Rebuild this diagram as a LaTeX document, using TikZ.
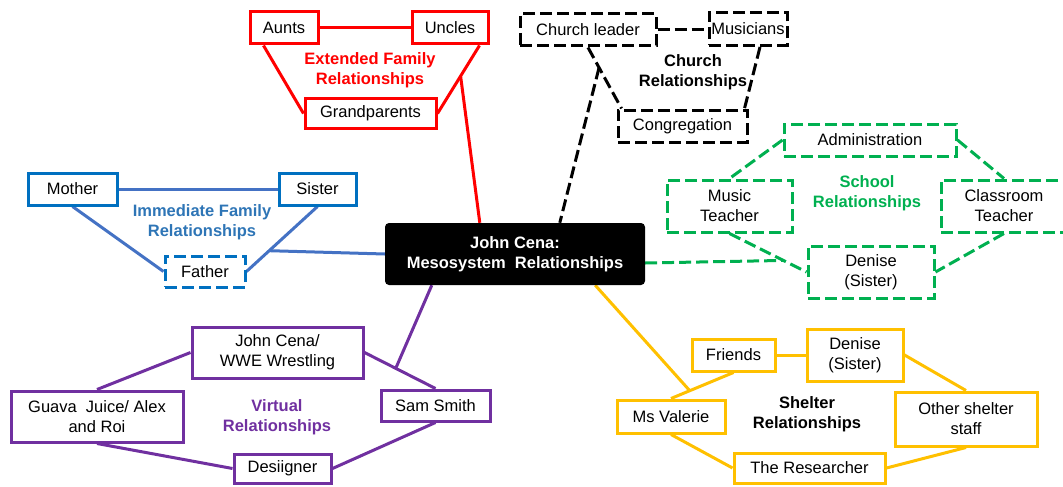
\documentclass[tikz,border=0pt]{standalone}
\usepackage{fontspec}
\setmainfont{Liberation Sans}
\usetikzlibrary{calc}
\pgfdeclarelayer{bg}
\pgfsetlayers{bg,main}
\definecolor{cred}{HTML}{FF0000}
\definecolor{cblueb}{HTML}{0070C0}
\definecolor{cbluel}{HTML}{4472C4}
\definecolor{cbluet}{HTML}{2E75B6}
\definecolor{cgreen}{HTML}{00B050}
\definecolor{cpurple}{HTML}{7030A0}
\definecolor{cyellow}{HTML}{FFC000}
\begin{document}
\begin{tikzpicture}[x=1pt,y=-1pt,
  box/.style={draw, line width=3pt, fill=white, align=center, inner sep=1pt,
    font=\fontsize{16.5}{20}\selectfont, text=black},
  dbox/.style={box, dash pattern=on 12pt off 5pt},
  lab/.style={align=center, font=\fontsize{16.5}{20}\selectfont\bfseries},
  conn/.style={line width=3pt},
  dconn/.style={line width=3pt, dash pattern=on 12pt off 5pt},
  redbox/.style={box, draw=cred},
  churchbox/.style={dbox, draw=black},
  bluebox/.style={box, draw=cblueb},
  greenbox/.style={dbox, draw=cgreen},
  purplebox/.style={box, draw=cpurple},
  yellowbox/.style={box, draw=cyellow}
]
\useasboundingbox (0,0) rectangle (1063,487);
\clip (0,0) rectangle (1063,487);

% centre
\node[fill=black, rounded corners=4pt, minimum width=260pt, minimum height=62pt,
  text=white, lab] (center) at (515,254) {John Cena:\\Mesosystem\ \ Relationships};

% ---- Extended family (red)
\node[redbox, minimum width=68pt, minimum height=32pt] (aunts) at (284,28) {Aunts};
\node[redbox, minimum width=76pt, minimum height=32pt] (uncles) at (450,28) {Uncles};
\node[redbox, minimum width=131pt, minimum height=30pt] (grand) at (370.5,113.5) {Grandparents};
\node[lab, text=cred] (redlab) at (370,70) {Extended Family\\Relationships};

% ---- Church (black dashed)
\node[churchbox, minimum width=136pt, minimum height=32pt] (cleader) at (588,30) {Church leader};
\node[churchbox, minimum width=78pt, minimum height=33pt] (musicians) at (748,29) {Musicians};
\node[churchbox, minimum width=129pt, minimum height=32pt] (cong) at (682.5,126) {Congregation};
\node[lab, text=black] (chlab) at (693,72) {Church\\Relationships};

% ---- Immediate family (blue)
\node[bluebox, minimum width=89pt, minimum height=32pt] (mother) at (72.5,189) {Mother};
\node[bluebox, minimum width=77pt, minimum height=32pt] (sister) at (317.5,189) {Sister};
\node[bluebox, dash pattern=on 12pt off 5pt, minimum width=80pt, minimum height=31pt] (father) at (205,271.5) {Father};
\node[lab, text=cbluet] (bluelab) at (202,222) {Immediate Family\\Relationships};

% ---- School (green dashed)
\node[greenbox, minimum width=172pt, minimum height=32pt] (admin) at (870,140) {Administration};
\node[greenbox, minimum width=125pt, minimum height=52pt] (music) at (729.5,206) {Music\\Teacher};
\node[greenbox, minimum width=126pt, minimum height=52pt] (classroom) at (1004,206) {Classroom\\Teacher};
\node[greenbox, minimum width=126pt, minimum height=52pt] (denisea) at (871,272) {Denise\\(Sister)};
\node[lab, text=cgreen] (greenlab) at (867,193) {School\\Relationships};

% ---- Virtual (purple)
\node[purplebox, minimum width=171pt, minimum height=51pt] (jcwwe) at (277.5,352.5) {John Cena/\\WWE Wrestling};
\node[purplebox, minimum width=172pt, minimum height=51pt] (guava) at (97,416.5) {Guava\ \ Juice/ Alex\\and Roi};
\node[purplebox, minimum width=109pt, minimum height=31pt] (sam) at (435.5,405.5) {Sam Smith};
\node[purplebox, minimum width=97pt, minimum height=29pt] (desiigner) at (282.5,468.5) {Desiigner};
\node[lab, text=cpurple] (purplelab) at (277,417) {Virtual\\Relationships};

% ---- Shelter (yellow)
\node[yellowbox, minimum width=83pt, minimum height=32pt] (friends) at (733.5,355) {Friends};
\node[yellowbox, minimum width=96pt, minimum height=52pt] (deniseb) at (855,355) {Denise\\(Sister)};
\node[yellowbox, minimum width=108pt, minimum height=33pt] (valerie) at (671,416.5) {Ms Valerie};
\node[yellowbox, minimum width=142pt, minimum height=54pt] (other) at (966,419) {Other shelter\\staff};
\node[yellowbox, minimum width=151pt, minimum height=30pt] (researcher) at (809.5,468) {The Researcher};
\node[lab, text=black] (shlab) at (807,414) {Shelter\\Relationships};

% ===== connectors (behind boxes)
\begin{pgfonlayer}{bg}
% red
\draw[conn, cred] (aunts.east) -- (uncles.west);
\draw[conn, cred] ($(aunts.south west)+(15,0)$) -- (grand.west);
\draw[conn, cred] ($(uncles.south east)+(-10,0)$) -- (grand.east) coordinate[pos=0.45] (rhub);
\draw[conn, cred] (rhub) -- ($(center.north west)+(95,0)$);
% church
\draw[dconn, black] (cleader.east) -- (cleader.east -| musicians.west);
\draw[dconn, black] (cleader.south) -- ($(cong.north west)+(5,0)$) coordinate[pos=0.33] (chub);
\draw[dconn, black] ($(musicians.south)+(12,0)$) -- ($(cong.north east)+(-4,0)$);
\draw[dconn, black] (chub) -- ($(center.north west)+(175,0)$);
% blue
\draw[conn, cbluel] (mother.east) -- (sister.west);
\draw[conn, cbluel] (mother.south) -- (father.west);
\draw[conn, cbluel] (sister.south) -- (father.east) coordinate[pos=0.68] (bhub);
\draw[conn, cbluel] (bhub) -- (center.west);
% green
\draw[dconn, cgreen] (admin.west) -- (music.north);
\draw[dconn, cgreen] (admin.east) -- (classroom.north);
\draw[dconn, cgreen] (music.south) -- (denisea.west) coordinate[pos=0.7] (ghub);
\draw[dconn, cgreen] (classroom.south) -- (denisea.east);
\draw[dconn, cgreen] ($(center.east)+(0,9)$) -- (ghub);
% purple
\draw[conn, cpurple] (jcwwe.west) -- (guava.north);
\draw[conn, cpurple] (jcwwe.east) -- (sam.north) coordinate[pos=0.44] (phub);
\draw[conn, cpurple] (guava.south) -- (desiigner.west);
\draw[conn, cpurple] (sam.south) -- (desiigner.east);
\draw[conn, cpurple] (phub) -- ($(center.south west)+(47,0)$);
% yellow
\draw[conn, cyellow] (friends.east) -- (deniseb.west);
\draw[conn, cyellow] (friends.south) -- (valerie.north) coordinate[pos=0.7] (yhub);
\draw[conn, cyellow] (deniseb.east) -- (other.north);
\draw[conn, cyellow] (valerie.south) -- (researcher.west);
\draw[conn, cyellow] (other.south) -- (researcher.east);
\draw[conn, cyellow] (yhub) -- ($(center.south east)+(-50,0)$);
\end{pgfonlayer}
\end{tikzpicture}
\end{document}
